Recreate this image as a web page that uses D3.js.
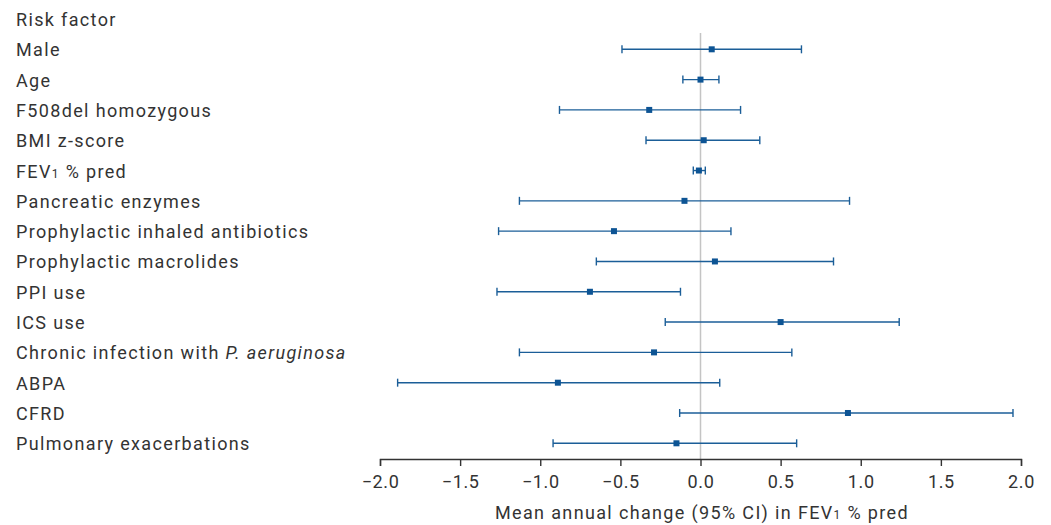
<html>
  <meta charset="utf-8" />
  <script src="https://d3js.org/d3.v7.min.js"></script>
  <style>
    body { margin: 0; background: #fff; }
    text { font-family: Roboto, "Open Sans", sans-serif; fill: #333; }
  </style>
  <body>
    <svg width="1051" height="525" id="forest"></svg>
    <script>
      // risk factors, top to bottom
      const factors = [
        "Male",
        "Age",
        "F508del homozygous",
        "BMI z-score",
        "FEV1 % pred",
        "Pancreatic enzymes",
        "Prophylactic inhaled antibiotics",
        "Prophylactic macrolides",
        "PPI use",
        "ICS use",
        "Chronic infection with P. aeruginosa",
        "ABPA",
        "CFRD",
        "Pulmonary exacerbations",
      ];
      // mean annual change and 95% CI
      const estimate = [0.07, 0.0, -0.32, 0.02, -0.01, -0.1, -0.54, 0.09, -0.69, 0.5, -0.29, -0.89, 0.92, -0.15];
      const lower = [-0.49, -0.11, -0.88, -0.34, -0.045, -1.13, -1.26, -0.65, -1.27, -0.22, -1.13, -1.89, -0.13, -0.92];
      const upper = [0.63, 0.115, 0.25, 0.37, 0.03, 0.93, 0.19, 0.83, -0.125, 1.24, 0.57, 0.12, 1.95, 0.6];
      const xTicks = [-2, -1.5, -1, -0.5, 0, 0.5, 1, 1.5, 2];

      const data = factors.map((f, i) => ({
        factor: f,
        est: estimate[i],
        lo: lower[i],
        hi: upper[i],
      }));

      const svg = d3.select("#forest");
      const blue = "#1b5e98";
      const spacing = "1.35px";

      const x = d3.scaleLinear().domain([-2, 2]).range([380, 1021]);
      const y = d3
        .scalePoint()
        .domain(["Risk factor"].concat(factors))
        .range([19, 443.3]);

      const axisY = 459;

      // labels column
      const labels = svg
        .append("g")
        .selectAll("text")
        .data(y.domain())
        .enter()
        .append("text")
        .attr("x", 16)
        .attr("y", (d) => y(d) + 7)
        .style("font-size", "18px")
        .style("letter-spacing", spacing);

      labels.each(function (d) {
        const t = d3.select(this);
        if (d === "FEV1 % pred") {
          t.append("tspan").text("FEV");
          t.append("tspan").style("font-size", "12px").text("1");
          t.append("tspan").text(" % pred");
        } else if (d.indexOf("P. aeruginosa") > -1) {
          t.append("tspan").text("Chronic infection with ");
          t.append("tspan").style("font-style", "italic").text("P. aeruginosa");
        } else {
          t.text(d);
        }
      });

      // zero line
      svg
        .append("line")
        .attr("x1", x(0))
        .attr("x2", x(0))
        .attr("y1", 33)
        .attr("y2", axisY)
        .attr("stroke", "#c4c4c4")
        .attr("stroke-width", 1.5);

      // x axis
      const axis = svg
        .append("g")
        .attr("transform", `translate(0, ${axisY})`)
        .call(
          d3
            .axisBottom(x)
            .tickValues(xTicks)
            .tickSize(7)
            .tickPadding(9)
            .tickFormat((d) => d3.format(".1f")(d).replace("-", "\u2212"))
        );
      axis.select(".domain").attr("stroke", "#333").attr("stroke-width", 1.4);
      axis.selectAll(".tick line").attr("stroke", "#333").attr("stroke-width", 1.4);
      axis
        .selectAll(".tick text")
        .style("font-family", "Roboto, sans-serif")
        .style("font-size", "18px")
        .style("letter-spacing", "0.6px")
        .attr("fill", "#333");

      // axis title
      const title = svg
        .append("text")
        .attr("x", 702)
        .attr("y", 519)
        .attr("text-anchor", "middle")
        .style("font-size", "18px")
        .style("letter-spacing", spacing);
      title.append("tspan").text("Mean annual change (95% CI) in FEV");
      title.append("tspan").style("font-size", "12px").text("1");
      title.append("tspan").text(" % pred");

      // error bars
      const rows = svg
        .append("g")
        .selectAll("g")
        .data(data)
        .enter()
        .append("g")
        .attr("transform", (d) => `translate(0, ${y(d.factor)})`);

      rows
        .append("line")
        .attr("x1", (d) => x(d.lo))
        .attr("x2", (d) => x(d.hi))
        .attr("stroke", blue)
        .attr("stroke-width", 1.4);

      rows
        .selectAll(".cap")
        .data((d) => [d.lo, d.hi])
        .enter()
        .append("line")
        .attr("class", "cap")
        .attr("x1", (v) => x(v))
        .attr("x2", (v) => x(v))
        .attr("y1", -4)
        .attr("y2", 4)
        .attr("stroke", blue)
        .attr("stroke-width", 1.4);

      rows
        .append("rect")
        .attr("x", (d) => x(d.est) - 3)
        .attr("y", -3)
        .attr("width", 6)
        .attr("height", 6)
        .attr("fill", "#0d5494");
    </script>
  </body>
</html>
